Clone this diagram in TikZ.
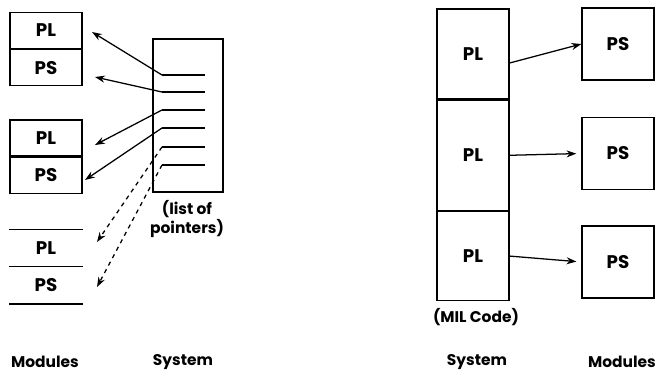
\documentclass[tikz,border=0pt]{standalone}
\usepackage{fontspec}
\setmainfont{Poppins}
\usetikzlibrary{arrows.meta,calc}

\begin{document}
\begin{tikzpicture}[x=0.025cm, y=-0.025cm,
    cell/.style={draw, line width=0.9pt, minimum width=1.8cm, minimum height=0.9cm, inner sep=0pt,
        font=\bfseries\fontsize{13}{15}\selectfont},
    ptr/.style={line width=0.9pt, -{Stealth[length=7pt,width=5pt]}},
    lbl/.style={font=\bfseries\fontsize{11}{13}\selectfont, align=center}]

    \useasboundingbox (0,0) rectangle (660,381);

    % Modules (left)
    \node[cell] (pl1) at (46,30.5) {PL};
    \node[cell, anchor=north] (ps1) at (pl1.south) {PS};
    \node[cell] (pl2) at (46,138) {PL};
    \node[cell, anchor=north] (ps2) at (pl2.south) {PS};
    \node[cell, draw=none] (pl3) at (46,248) {PL};
    \node[cell, draw=none, anchor=north] (ps3) at (pl3.south) {PS};
    \draw[line width=0.9pt] (pl3.north west) -- (pl3.north east);
    \draw[line width=0.9pt] (pl3.south west) -- (pl3.south east);
    \draw[line width=0.9pt] (ps3.south west) -- (ps3.south east);

    % List of pointers
    \node[draw, line width=0.9pt, minimum width=1.75cm, minimum height=3.825cm] (list) at (188,115.5) {};
    \foreach \y [count=\i] in {75,92,110,128,147,165} {
        \draw[line width=0.9pt] (162,\y) -- (205,\y);
        \coordinate (e\i) at (162,\y);
    }
    \node[lbl] (lname) at (187,219) {(list of\\pointers)};

    % Pointer tips
    \coordinate (a1) at (92,32);
    \coordinate (a2) at (95,77);
    \coordinate (a3) at (95,145);
    \coordinate (a4) at (85,180);
    \coordinate (a5) at (97,242);
    \coordinate (a6) at (97,287);

    % Pointers
    \draw[ptr] (e1) -- (a1);
    \draw[ptr] (e2) -- (a2);
    \draw[ptr] (e3) -- (a3);
    \draw[ptr] (e4) -- (a4);
    \draw[ptr, dashed] (e5) -- (a5);
    \draw[ptr, dashed] (e6) -- (a6);

    % System (MIL code)
    \node[cell, minimum height=2.25cm] (pl4) at (473,54) {PL};
    \node[cell, minimum height=2.75cm, anchor=north] (pl5) at (pl4.south) {PL};
    \node[cell, minimum height=2.225cm, anchor=north] (pl6) at (pl5.south) {PL};
    \node[lbl] (mil) at (476,317) {(MIL Code)};

    % Modules (right)
    \node[cell, minimum height=1.8cm] (ps4) at (618,44) {PS};
    \node[cell, minimum height=1.8cm] (ps5) at (618,153.5) {PS};
    \node[cell, minimum height=1.8cm] (ps6) at (618,262) {PS};

    \draw[ptr] ($(pl4.east)+(0,9)$) -- (ps4.west);
    \draw[ptr, shorten >=5*0.025cm] (pl5.east) -- (ps5.west);
    \draw[ptr, shorten >=5*0.025cm] (pl6.east) -- (ps6.west);

    % Labels
    \node[lbl] (mod1) at (45,362) {Modules};
    \node[lbl] (sys1) at (183,362) {System};
    \node[lbl] (sys2) at (477,362) {System};
    \node[lbl] (mod2) at (622,362) {Modules};

\end{tikzpicture}
\end{document}
